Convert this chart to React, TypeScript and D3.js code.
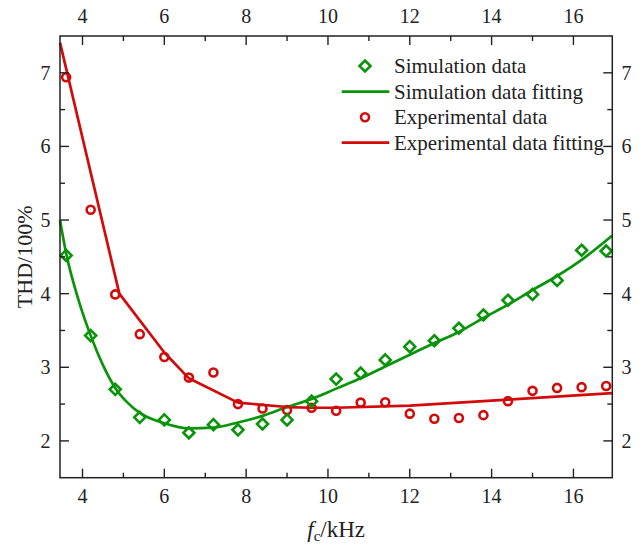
import React from 'react';
import * as d3 from 'd3';

// switching frequency (kHz), shared by both data sets
const freq = [3.6, 4.2, 4.8, 5.4, 6.0, 6.6, 7.2, 7.8, 8.4, 9.0, 9.6, 10.2, 10.8, 11.4, 12.0, 12.6, 13.2, 13.8, 14.4, 15.0, 15.6, 16.2, 16.8];
const simThd = [4.52, 3.43, 2.7, 2.32, 2.285, 2.11, 2.22, 2.15, 2.23, 2.285, 2.54, 2.84, 2.92, 3.1, 3.28, 3.36, 3.53, 3.71, 3.91, 3.99, 4.18, 4.59, 4.58];
const expThd = [6.94, 5.14, 3.99, 3.45, 3.14, 2.86, 2.93, 2.5, 2.44, 2.42, 2.45, 2.41, 2.52, 2.525, 2.37, 2.3, 2.31, 2.35, 2.54, 2.68, 2.72, 2.73, 2.745];

// fitted curves
const simFitX = [3.45, 3.6, 3.9, 4.2, 4.5, 4.8, 5.1, 5.4, 6.0, 6.6, 7.2, 7.8, 8.4, 9.0, 9.6, 10.2, 10.8, 11.4, 12.0, 12.6, 13.2, 13.8, 14.4, 15.0, 15.6, 16.2, 16.95];
const simFitY = [5.0, 4.55, 3.92, 3.43, 3.03, 2.72, 2.52, 2.38, 2.24, 2.17, 2.18, 2.25, 2.34, 2.46, 2.57, 2.71, 2.85, 3.01, 3.17, 3.33, 3.48, 3.67, 3.85, 4.05, 4.24, 4.46, 4.79];
const expFitX = [3.45, 4.9, 6.0, 6.6, 7.8, 9.0, 9.6, 10.2, 12.0, 14.4, 16.95];
const expFitY = [7.41, 4.0, 3.2, 2.85, 2.52, 2.46, 2.45, 2.45, 2.48, 2.56, 2.65];

const xMajor = [4, 6, 8, 10, 12, 14, 16];
const xMinor = [5, 7, 9, 11, 13, 15];
const yMajor = [2, 3, 4, 5, 6, 7];
const yMinor = [2.5, 3.5, 4.5, 5.5, 6.5];

const legendItems = ['Simulation data', 'Simulation data fitting', 'Experimental data', 'Experimental data fitting'];

const GREEN = '#099409';
const RED = '#d20a0a';
const INK = '#222';
const FONT = '"Liberation Serif", "Times New Roman", serif';

export default function App() {
  const width = 644, height = 547;
  const left = 60, right = 612.3, top = 36, bottom = 477.7;

  const x = d3.scaleLinear().domain([3.45, 16.95]).range([left, right]);
  const y = d3.scaleLinear().domain([1.5, 7.5]).range([bottom, top]);

  const simLine = d3.line<number>()
    .x((d, i) => x(simFitX[i]))
    .y(d => y(d))
    .curve(d3.curveMonotoneX);
  const expLine = d3.line<number>()
    .x((d, i) => x(expFitX[i]))
    .y(d => y(d));

  const diamond = (cx: number, cy: number, r: number) =>
    `M${cx},${cy - r}L${cx + r},${cy}L${cx},${cy + r}L${cx - r},${cy}Z`;

  const legendX = 365, legendY = [66, 91.7, 117.3, 142.7];

  return (
    <svg width={width} height={height} style={{ position: 'absolute', left: 0, top: 0, background: '#fff' }}
         fontFamily={FONT}>
      <rect x={0} y={0} width={width} height={height} fill="#fff" />

      {/* fitting lines */}
      <path d={expLine(expFitY) || ''} fill="none" stroke={RED} strokeWidth={2.7} strokeLinejoin="round" />
      <path d={simLine(simFitY) || ''} fill="none" stroke={GREEN} strokeWidth={2.7} />

      {/* markers */}
      {freq.map((f, i) => (
        <circle key={'e' + i} cx={x(f)} cy={y(expThd[i])} r={4} fill="none" stroke={RED} strokeWidth={2.6} />
      ))}
      {freq.map((f, i) => (
        <path key={'s' + i} d={diamond(x(f), y(simThd[i]), 5.5)} fill="none" stroke={GREEN} strokeWidth={2.6} />
      ))}

      {/* frame */}
      <rect x={left} y={top} width={right - left} height={bottom - top} fill="none" stroke={INK} strokeWidth={1.5} />

      {/* ticks, inward on all four sides */}
      <g stroke={INK} strokeWidth={1.4}>
        {xMajor.map(t => (
          <g key={'xM' + t}>
            <line x1={x(t)} x2={x(t)} y1={bottom} y2={bottom - 9} />
            <line x1={x(t)} x2={x(t)} y1={top} y2={top + 9} />
          </g>
        ))}
        {xMinor.map(t => (
          <g key={'xm' + t}>
            <line x1={x(t)} x2={x(t)} y1={bottom} y2={bottom - 5} />
            <line x1={x(t)} x2={x(t)} y1={top} y2={top + 5} />
          </g>
        ))}
        {yMajor.map(t => (
          <g key={'yM' + t}>
            <line x1={left} x2={left + 9} y1={y(t)} y2={y(t)} />
            <line x1={right} x2={right - 9} y1={y(t)} y2={y(t)} />
          </g>
        ))}
        {yMinor.map(t => (
          <g key={'ym' + t}>
            <line x1={left} x2={left + 5} y1={y(t)} y2={y(t)} />
            <line x1={right} x2={right - 5} y1={y(t)} y2={y(t)} />
          </g>
        ))}
      </g>

      {/* tick labels */}
      <g fill={INK} fontSize={20}>
        {xMajor.map(t => (
          <g key={'xl' + t}>
            <text x={x(t)} y={502.5} textAnchor="middle">{t}</text>
            <text x={x(t)} y={23} textAnchor="middle">{t}</text>
          </g>
        ))}
        {yMajor.map(t => (
          <g key={'yl' + t}>
            <text x={50.5} y={y(t) + 7} textAnchor="end">{t}</text>
            <text x={621.5} y={y(t) + 7} textAnchor="start">{t}</text>
          </g>
        ))}
      </g>

      {/* axis titles */}
      <text transform={`translate(31.5,${(top + bottom) / 2}) rotate(-90)`} textAnchor="middle"
            fontSize={22} fill={INK}>THD/100%</text>
      <text x={(left + right) / 2} y={537} textAnchor="middle" fontSize={23} fill={INK}>
        <tspan fontStyle="italic">f</tspan>
        <tspan fontSize={15} dy={4}>c</tspan>
        <tspan dy={-4}>/kHz</tspan>
      </text>

      {/* legend */}
      <path d={diamond(legendX, legendY[0], 5.5)} fill="none" stroke={GREEN} strokeWidth={2.6} />
      <line x1={341.7} x2={389.3} y1={legendY[1]} y2={legendY[1]} stroke={GREEN} strokeWidth={2.7} />
      <circle cx={legendX} cy={legendY[2]} r={4} fill="none" stroke={RED} strokeWidth={2.6} />
      <line x1={341.7} x2={389.3} y1={legendY[3]} y2={legendY[3]} stroke={RED} strokeWidth={2.7} />
      <g fontSize={21} fill={INK}>
        {legendItems.map((s, i) => (
          <text key={s} x={394} y={legendY[i] + 7}>{s}</text>
        ))}
      </g>
    </svg>
  );
}
